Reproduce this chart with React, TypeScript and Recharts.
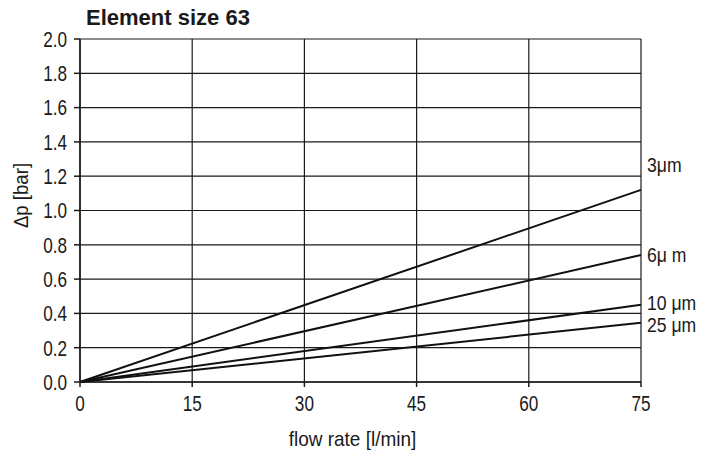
import React from "react";
import { LineChart, Line, XAxis, YAxis, CartesianGrid, LabelList, Label } from "recharts";

// flow rate [l/min] at which values were read
const flow = [0, 75];
// Δp [bar] per filter fineness
const dp3 = [0, 1.12];
const dp6 = [0, 0.74];
const dp10 = [0, 0.45];
const dp25 = [0, 0.345];

const xTicks = [0, 15, 30, 45, 60, 75];
const yTicks = [0, 0.2, 0.4, 0.6, 0.8, 1.0, 1.2, 1.4, 1.6, 1.8, 2.0];

const data = flow.map((f, i) => ({
  flow: f,
  dp3: dp3[i],
  dp6: dp6[i],
  dp10: dp10[i],
  dp25: dp25[i],
}));

const FONT = "'Liberation Sans', Arial, sans-serif";
const INK = "#1a1a1a";

const series = [
  { key: "dp3", text: "3μm", dy: -25 },
  { key: "dp6", text: "6μ m", dy: 0 },
  { key: "dp10", text: "10 μm", dy: -2 },
  { key: "dp25", text: "25 μm", dy: 2 },
];

// condensed-looking text: regular sans squeezed horizontally
function CondText({ x, y, anchor = "start", size = 22, sx = 0.78, rotate = 0, children }: any) {
  return (
    <g transform={`translate(${x},${y}) rotate(${rotate}) scale(${sx},1)`}>
      <text x={0} y={0} textAnchor={anchor} dominantBaseline="central" fontFamily={FONT} fontSize={size} fill={INK}>
        {children}
      </text>
    </g>
  );
}

function endLabel(text: string, dy: number, last: number) {
  return (props: any) => {
    if (props.index !== last) return null;
    return (
      <CondText x={Number(props.x) + 6} y={Number(props.y) + dy} size={20} sx={0.88}>
        {text}
      </CondText>
    );
  };
}

export default function App() {
  const last = data.length - 1;
  return (
    <div style={{ position: "absolute", left: 0, top: 0, width: 714, height: 453, background: "#fff" }}>
      <div
        style={{
          position: "absolute",
          left: 86,
          top: 5,
          fontFamily: FONT,
          fontWeight: 700,
          fontSize: 22,
          color: INK,
          whiteSpace: "nowrap",
        }}
      >
        Element size 63
      </div>
      <LineChart width={714} height={453} data={data} margin={{ top: 39, right: 73, left: 0, bottom: 40 }}>
        <CartesianGrid stroke={INK} strokeWidth={1.2} />
        <XAxis
          dataKey="flow"
          type="number"
          domain={[0, 75]}
          ticks={xTicks}
          height={31}
          tickSize={5}
          tickMargin={8}
          stroke={INK}
          strokeWidth={1.5}
          tick={(p: any) => (
            <CondText x={p.x} y={p.y + 8} anchor="middle">
              {p.payload.value}
            </CondText>
          )}
        >
          <Label
            content={(p: any) => (
              <CondText x={p.viewBox.x + p.viewBox.width / 2 - 8} y={p.viewBox.y + 57} anchor="middle" size={20} sx={0.95}>
                flow rate [l/min]
              </CondText>
            )}
          />
        </XAxis>
        <YAxis
          type="number"
          domain={[0, 2]}
          ticks={yTicks}
          width={80}
          tickSize={6}
          tickMargin={7}
          stroke={INK}
          strokeWidth={1.5}
          tick={(p: any) => (
            <CondText x={p.x} y={p.y} anchor="end">
              {Number(p.payload.value).toFixed(1)}
            </CondText>
          )}
        >
          <Label
            content={(p: any) => (
              <CondText x={21} y={p.viewBox.y + p.viewBox.height / 2 - 15} anchor="middle" size={20} sx={0.93} rotate={-90}>
                Δp [bar]
              </CondText>
            )}
          />
        </YAxis>
        {series.map((s) => (
          <Line
            key={s.key}
            dataKey={s.key}
            type="linear"
            stroke="#111"
            strokeWidth={2}
            dot={false}
            activeDot={false}
            isAnimationActive={false}
          >
            <LabelList dataKey={s.key} content={endLabel(s.text, s.dy, last)} />
          </Line>
        ))}
      </LineChart>
    </div>
  );
}
